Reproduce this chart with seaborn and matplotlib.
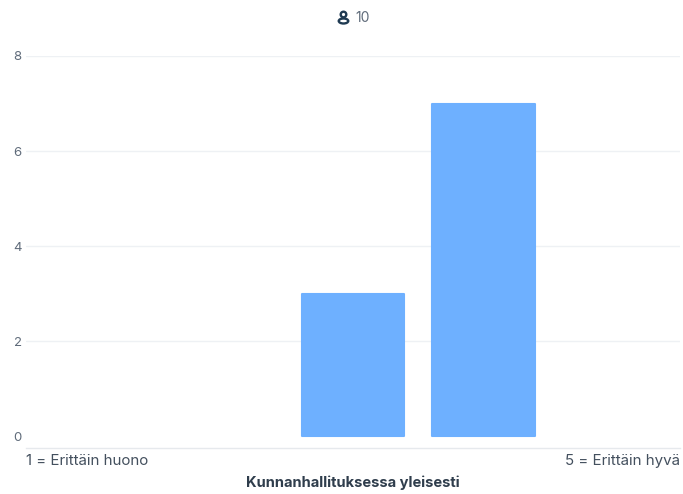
import numpy as np
import pandas as pd
import matplotlib
matplotlib.use("Agg")
import matplotlib.pyplot as plt
from matplotlib.patches import Circle, Ellipse
import seaborn as sns

# values
categories = ["1", "2", "3", "4", "5"]
counts = [np.nan, np.nan, 3, 7, np.nan]
y_ticks = [0, 2, 4, 6, 8]
left_label = "1 = Erittäin huono"
right_label = "5 = Erittäin hyvä"
x_title = "Kunnanhallituksessa yleisesti"
respondents = "10"

sns.set_theme(style="white")
plt.rcParams['font.family'] = ['Inter', 'DejaVu Sans']

W, H = 683, 494
df = pd.DataFrame({"category": categories, "count": counts})

fig = plt.figure(figsize=(W / 100, H / 100), dpi=100)
ax = fig.add_axes([26 / W, 1 - 448 / H, 654 / W, 392 / H])

sns.barplot(data=df, x="category", y="count", color="#6EB0FF", saturation=1,
            width=0.785, ax=ax, zorder=3)

# slightly rounded corners
for p in ax.patches:
    p.set_edgecolor("#6EB0FF")
    p.set_linewidth(1.5)
    p.set_joinstyle("round")

ax.set_ylim(-0.25, 8)
ax.set_xlim(-0.5, 4.5)
ax.set_yticks(y_ticks)
ax.set_xticks([])
ax.set_xlabel("")
ax.set_ylabel("")
ax.grid(axis="y", color="#EEF1F4", linewidth=1)
ax.get_ygridlines()[0].set_visible(False)  # no line at 0 in the original
ax.set_axisbelow(True)
ax.tick_params(axis="y", length=0, pad=3, labelsize=9.5, labelcolor="#5F6B7A")
sns.despine(ax=ax, left=True, top=True, right=True)
ax.spines["bottom"].set_color("#E6E9ED")
ax.spines["bottom"].set_linewidth(1)

fig.text(26 / W, 1 - 461 / H, left_label, ha="left", va="center", fontsize=10.9, color="#44505E")
fig.text(680 / W, 1 - 461 / H, right_label, ha="right", va="center", fontsize=10.9, color="#44505E")
fig.text(353 / W, 1 - 483 / H, x_title, ha="center", va="center", fontsize=10.6,
         fontweight="bold", color="#2F3D4C")
fig.text(355 / W, 1 - 18 / H, respondents, ha="left", va="center", fontsize=10, color="#5F6B7A")

# person icon above the chart
icon = fig.add_axes([0, 0, 1, 1], facecolor="none")
icon.set_xlim(0, W)
icon.set_ylim(H, 0)
icon.axis("off")
icon.add_patch(Circle((343.5, 14.5), 2.8, fill=False, edgecolor="#1F3A52", linewidth=1.7))
icon.add_patch(Ellipse((343.5, 21), 9.5, 5, fill=False, edgecolor="#1F3A52", linewidth=1.7))

fig.savefig("out.png", dpi=100)
